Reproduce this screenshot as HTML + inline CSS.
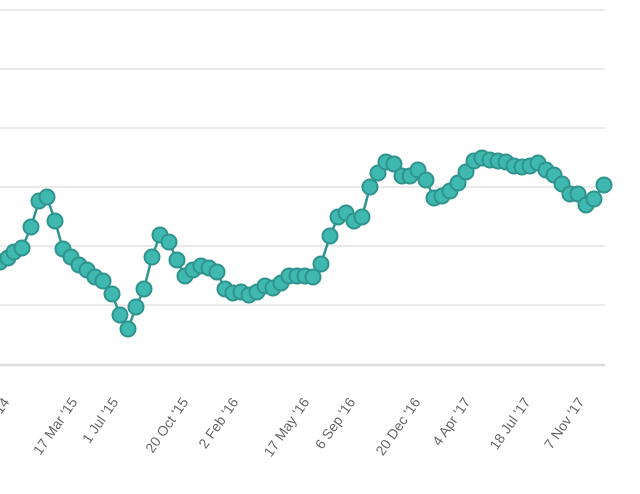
<!DOCTYPE html><html><head><style>body{margin:0;background:#fff}svg{display:block}</style></head><body>
<svg width="640" height="494" xmlns="http://www.w3.org/2000/svg">
<g stroke="#e3e3e3" stroke-width="1.5">
<line x1="0" y1="10" x2="605" y2="10"/><line x1="0" y1="69" x2="605" y2="69"/><line x1="0" y1="128" x2="605" y2="128"/><line x1="0" y1="187" x2="605" y2="187"/><line x1="0" y1="246" x2="605" y2="246"/><line x1="0" y1="305" x2="605" y2="305"/><line x1="0" y1="365" x2="605" y2="365" stroke="#ddd" stroke-width="2.5"/>
</g>
<g font-family="Liberation Sans, sans-serif" font-size="14" fill="#666" text-anchor="end">
<text transform="translate(10,402) rotate(-55)">Dec '14</text>
<text transform="translate(78,402) rotate(-55)">17 Mar '15</text>
<text transform="translate(119,402) rotate(-55)">1 Jul '15</text>
<text transform="translate(189,402) rotate(-55)">20 Oct '15</text>
<text transform="translate(239,402) rotate(-55)">2 Feb '16</text>
<text transform="translate(310,402) rotate(-55)">17 May '16</text>
<text transform="translate(356,402) rotate(-55)">6 Sep '16</text>
<text transform="translate(421,402) rotate(-55)">20 Dec '16</text>
<text transform="translate(471,402) rotate(-55)">4 Apr '17</text>
<text transform="translate(531,402) rotate(-55)">18 Jul '17</text>
<text transform="translate(585,402) rotate(-55)">7 Nov '17</text>
</g>
<polyline fill="none" stroke="#2f938e" stroke-width="2.5" points="0,262 8,258 14,252 22,248 31,227 39,201 47,197 55,221 63,249 71,257 79,265 87,270 95,277 103,281 112,294 120,315 128,329 136,307 144,289 152,257 160,235 169,242 177,260 185,276 193,270 201,266 209,268 217,272 225,289 233,293 241,292 249,295 257,292 265,286 273,288 281,283 289,276 297,276 305,276 313,277 321,264 330,236 338,217 346,213 354,221 362,217 370,187 378,173 386,162 394,164 402,176 410,176 418,170 426,180 434,198 442,196 450,191 458,183 466,172 474,161 482,158 490,160 498,161 506,162 514,166 522,167 530,166 538,163 546,170 554,175 562,184 570,194 578,194 586,205 594,199 604,185"/>
<g fill="#3fb8b0" stroke="#2f938e" stroke-width="2">
<circle cx="0" cy="262" r="7.5"/><circle cx="8" cy="258" r="7.5"/><circle cx="14" cy="252" r="7.5"/><circle cx="22" cy="248" r="7.5"/><circle cx="31" cy="227" r="7.5"/><circle cx="39" cy="201" r="7.5"/><circle cx="47" cy="197" r="7.5"/><circle cx="55" cy="221" r="7.5"/><circle cx="63" cy="249" r="7.5"/><circle cx="71" cy="257" r="7.5"/><circle cx="79" cy="265" r="7.5"/><circle cx="87" cy="270" r="7.5"/><circle cx="95" cy="277" r="7.5"/><circle cx="103" cy="281" r="7.5"/><circle cx="112" cy="294" r="7.5"/><circle cx="120" cy="315" r="7.5"/><circle cx="128" cy="329" r="7.5"/><circle cx="136" cy="307" r="7.5"/><circle cx="144" cy="289" r="7.5"/><circle cx="152" cy="257" r="7.5"/><circle cx="160" cy="235" r="7.5"/><circle cx="169" cy="242" r="7.5"/><circle cx="177" cy="260" r="7.5"/><circle cx="185" cy="276" r="7.5"/><circle cx="193" cy="270" r="7.5"/><circle cx="201" cy="266" r="7.5"/><circle cx="209" cy="268" r="7.5"/><circle cx="217" cy="272" r="7.5"/><circle cx="225" cy="289" r="7.5"/><circle cx="233" cy="293" r="7.5"/><circle cx="241" cy="292" r="7.5"/><circle cx="249" cy="295" r="7.5"/><circle cx="257" cy="292" r="7.5"/><circle cx="265" cy="286" r="7.5"/><circle cx="273" cy="288" r="7.5"/><circle cx="281" cy="283" r="7.5"/><circle cx="289" cy="276" r="7.5"/><circle cx="297" cy="276" r="7.5"/><circle cx="305" cy="276" r="7.5"/><circle cx="313" cy="277" r="7.5"/><circle cx="321" cy="264" r="7.5"/><circle cx="330" cy="236" r="7.5"/><circle cx="338" cy="217" r="7.5"/><circle cx="346" cy="213" r="7.5"/><circle cx="354" cy="221" r="7.5"/><circle cx="362" cy="217" r="7.5"/><circle cx="370" cy="187" r="7.5"/><circle cx="378" cy="173" r="7.5"/><circle cx="386" cy="162" r="7.5"/><circle cx="394" cy="164" r="7.5"/><circle cx="402" cy="176" r="7.5"/><circle cx="410" cy="176" r="7.5"/><circle cx="418" cy="170" r="7.5"/><circle cx="426" cy="180" r="7.5"/><circle cx="434" cy="198" r="7.5"/><circle cx="442" cy="196" r="7.5"/><circle cx="450" cy="191" r="7.5"/><circle cx="458" cy="183" r="7.5"/><circle cx="466" cy="172" r="7.5"/><circle cx="474" cy="161" r="7.5"/><circle cx="482" cy="158" r="7.5"/><circle cx="490" cy="160" r="7.5"/><circle cx="498" cy="161" r="7.5"/><circle cx="506" cy="162" r="7.5"/><circle cx="514" cy="166" r="7.5"/><circle cx="522" cy="167" r="7.5"/><circle cx="530" cy="166" r="7.5"/><circle cx="538" cy="163" r="7.5"/><circle cx="546" cy="170" r="7.5"/><circle cx="554" cy="175" r="7.5"/><circle cx="562" cy="184" r="7.5"/><circle cx="570" cy="194" r="7.5"/><circle cx="578" cy="194" r="7.5"/><circle cx="586" cy="205" r="7.5"/><circle cx="594" cy="199" r="7.5"/><circle cx="604" cy="185" r="7.5"/>
</g>
</svg></body></html>
